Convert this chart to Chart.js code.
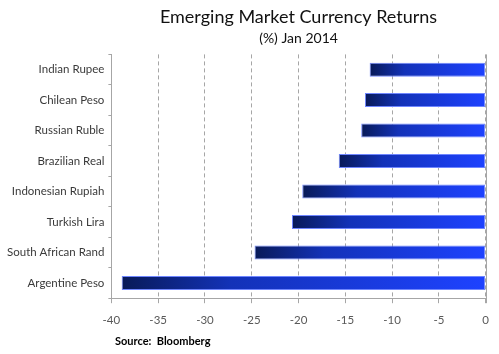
<!DOCTYPE html>
<html>
<head>
<meta charset="utf-8">
<script src="https://cdn.jsdelivr.net/npm/chart.js@4"></script>
<style>
  html, body { margin: 0; padding: 0; background: #fff; }
  #wrap { width: 499px; height: 354px; }
</style>
</head>
<body>
<div id="wrap"><canvas id="chart"></canvas></div>
<script>
const currencies = [
  "Indian Rupee",
  "Chilean Peso",
  "Russian Ruble",
  "Brazilian Real",
  "Indonesian Rupiah",
  "Turkish Lira",
  "South African Rand",
  "Argentine Peso",
];
const returnsJan2014 = [-12.4, -12.9, -13.3, -15.7, -19.6, -20.7, -24.7, -38.9];
const xTicks = [-40, -35, -30, -25, -20, -15, -10, -5, 0];

// gradient running from each bar's end (dark) to the zero line (bright)
function barFill(context) {
  const chart = context.chart;
  const x = chart.scales.x;
  if (!chart.chartArea || !x) return "#1530c8";
  const v = context.raw;
  const x0 = x.getPixelForValue(v);
  const x1 = x.getPixelForValue(0);
  if (!isFinite(x0) || !isFinite(x1) || x0 === x1) return "#1530c8";
  const g = chart.ctx.createLinearGradient(x0, 0, x1, 0);
  g.addColorStop(0, "#081a58");
  g.addColorStop(0.3, "#1332b8");
  g.addColorStop(1, "#1e42ff");
  return g;
}

const extras = {
  id: "extras",
  afterDatasetsDraw(chart) {
    const { ctx, chartArea, scales } = chart;
    const zx = scales.x.getPixelForValue(0);
    ctx.save();
    ctx.strokeStyle = "#a6a6a6";
    ctx.lineWidth = 1;
    ctx.beginPath();
    ctx.moveTo(Math.round(zx) + 0.5, chartArea.top);
    ctx.lineTo(Math.round(zx) + 0.5, chartArea.bottom + 5);
    ctx.stroke();
    ctx.restore();
  },
  afterDraw(chart) {
    const ctx = chart.ctx;
    ctx.save();
    ctx.fillStyle = "#000";
    ctx.font = "bold 11px Lato";
    ctx.textBaseline = "middle";
    ctx.fillText("Source:  Bloomberg", 115, 341);
    ctx.restore();
  },
};

new Chart(document.getElementById("chart"), {
  type: "bar",
  data: {
    labels: currencies,
    datasets: [
      {
        data: returnsJan2014,
        backgroundColor: barFill,
        borderColor: "#6f86ff",
        borderWidth: 1,
        borderSkipped: false,
        barPercentage: 0.46,
        categoryPercentage: 1,
      },
    ],
  },
  options: {
    indexAxis: "y",
    responsive: true,
    maintainAspectRatio: false,
    animation: false,
    layout: {
      padding: { left: 3, right: 12, top: 0, bottom: 17 },
    },
    scales: {
      x: {
        min: -40,
        max: 0,
        afterBuildTicks: (axis) => {
          axis.ticks = xTicks.map((v) => ({ value: v }));
        },
        grid: {
          color: "#a6a6a6",
          tickColor: "#a6a6a6",
          tickLength: 5,
          drawOnChartArea: true,
        },
        border: { display: true, color: "#a6a6a6", dash: [4, 3] },
        ticks: {
          color: "#595959",
          font: { family: "Lato", size: 11.5 },
          padding: 10,
        },
      },
      y: {
        grid: {
          display: true,
          drawOnChartArea: false,
          color: "#a6a6a6",
          tickLength: 3,
          offset: true,
        },
        border: { display: true, color: "#a6a6a6" },
        ticks: {
          color: "#3a3a3a",
          font: { family: "Lato", size: 11.5 },
          padding: 4,
        },
      },
    },
    plugins: {
      legend: { display: false },
      tooltip: { enabled: false },
      title: {
        display: true,
        text: "Emerging Market Currency Returns",
        color: "#111",
        fullSize: false,
        font: { family: "Lato", size: 18, weight: "normal" },
        padding: { top: 6, bottom: 2 },
      },
      subtitle: {
        display: true,
        text: "(%) Jan 2014",
        color: "#111",
        fullSize: false,
        font: { family: "Lato", size: 14, weight: "normal" },
        padding: { top: 0, bottom: 8 },
      },
    },
  },
  plugins: [extras],
});
</script>
</body>
</html>
